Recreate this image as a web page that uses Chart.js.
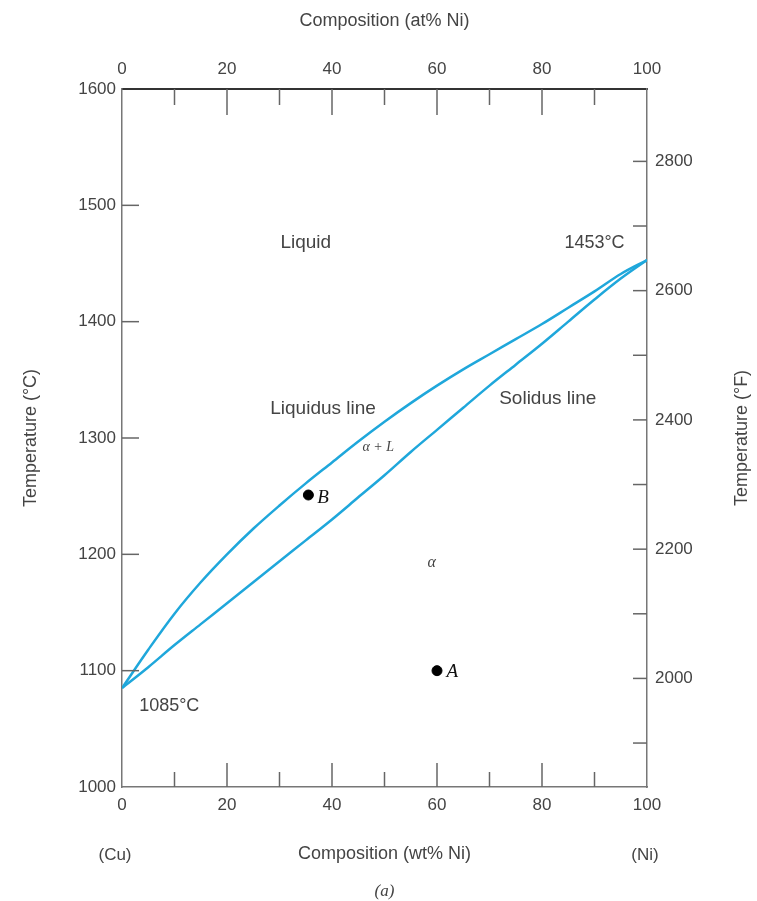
<!DOCTYPE html>
<html lang="en">
<head>
  <meta charset="UTF-8" />
  <title>Cu-Ni phase diagram</title>
  <script src="https://cdn.jsdelivr.net/npm/chart.js"></script>
  <style>
    body { margin: 0; background: #fff; }
    #wrap { width: 757px; height: 901px; }
  </style>
</head>
<body>
  <div id="wrap"><canvas id="phase" width="757" height="901"></canvas></div>

  <script>
    // composition (wt% Ni) where the two boundaries were read
    const wtNi = [0, 5, 10, 15, 20, 25, 30, 35, 40, 45, 50, 55, 60, 65, 70, 75, 80, 85, 90, 95, 100];
    // liquidus and solidus temperatures (°C)
    const liquidusC = [1085, 1118, 1149, 1176, 1200, 1222, 1242, 1261, 1279, 1297, 1314, 1330, 1345, 1359, 1372, 1385, 1398, 1412, 1426, 1441, 1453];
    const solidusC  = [1085, 1103, 1122, 1140, 1158, 1176, 1194, 1212, 1230, 1249, 1268, 1288, 1307, 1326, 1345, 1363, 1381, 1400, 1419, 1437, 1453];

    // the two marked alloys
    const pointNames = ['A', 'B'];
    const pointWt = [60, 35.5];
    const pointTempC = [1100, 1251];

    // axis ranges
    const tempMinC = 1000, tempMaxC = 1600;
    const toF = c => c * 9 / 5 + 32;

    const sans = '"Liberation Sans", Arial, sans-serif';
    const serif = '"Liberation Serif", "Times New Roman", serif';

    // text placed on the diagram (data coordinates)
    const notes = [
      { text: 'Liquid', x: 35, y: 1468, font: '19px ' + sans },
      { text: '1453°C', x: 90, y: 1468, font: '18px ' + sans },
      { text: 'Liquidus line', x: 38.3, y: 1325, font: '19px ' + sans },
      { text: 'Solidus line', x: 81.1, y: 1334, font: '19px ' + sans },
      { text: 'α + L', x: 48.8, y: 1292, font: 'italic 14px ' + serif },
      { text: 'α', x: 59, y: 1193, font: 'italic 16px ' + serif },
      { text: '1085°C', x: 9, y: 1070, font: '18px ' + sans },
      { text: 'A', x: 62.9, y: 1099, font: 'italic 19px ' + serif, color: '#111' },
      { text: 'B', x: 38.3, y: 1248, font: 'italic 19px ' + serif, color: '#111' }
    ];

    const lineColor = '#1fa7db';
    const textColor = '#444';

    Chart.defaults.font.family = sans;
    Chart.defaults.font.size = 17;
    Chart.defaults.color = textColor;

    // tick marks drawn inward, labels and extra text
    const diagramExtras = {
      id: 'diagramExtras',
      afterDraw(chart) {
        const ctx = chart.ctx;
        const a = chart.chartArea;
        const s = chart.scales;
        ctx.save();
        ctx.strokeStyle = '#666';
        ctx.lineWidth = 1.5;
        const seg = (x1, y1, x2, y2) => { ctx.beginPath(); ctx.moveTo(x1, y1); ctx.lineTo(x2, y2); ctx.stroke(); };

        s.x.ticks.forEach(t => {
          if (t.value <= 0 || t.value >= 100) return;
          const px = s.x.getPixelForValue(t.value);
          seg(px, a.bottom, px, a.bottom - (t.value % 20 === 0 ? 24 : 15));
        });
        s.x2.ticks.forEach(t => {
          if (t.value <= 0 || t.value >= 100) return;
          const px = s.x2.getPixelForValue(t.value);
          seg(px, a.top, px, a.top + (t.value % 20 === 0 ? 26 : 16));
        });
        s.y.ticks.forEach(t => {
          if (t.value <= tempMinC || t.value >= tempMaxC) return;
          const py = s.y.getPixelForValue(t.value);
          seg(a.left, py, a.left + 17, py);
        });
        s.y2.ticks.forEach(t => {
          const py = s.y2.getPixelForValue(t.value);
          seg(a.right, py, a.right - 14, py);
        });

        // on-diagram labels
        ctx.textAlign = 'center';
        ctx.textBaseline = 'middle';
        notes.forEach(n => {
          ctx.font = n.font;
          ctx.fillStyle = n.color || textColor;
          ctx.fillText(n.text, s.x.getPixelForValue(n.x), s.y.getPixelForValue(n.y));
        });

        // end members and panel letter
        ctx.font = '17px ' + sans;
        ctx.fillStyle = textColor;
        ctx.fillText('(Cu)', s.x.getPixelForValue(0) - 7, 855);
        ctx.fillText('(Ni)', s.x.getPixelForValue(100) - 2, 855);
        ctx.font = 'italic 17px ' + serif;
        ctx.fillText('(a)', (a.left + a.right) / 2, 892);

        // right axis title, reading upward
        ctx.font = '18px ' + sans;
        ctx.translate(742, (a.top + a.bottom) / 2);
        ctx.rotate(-Math.PI / 2);
        ctx.fillText('Temperature (°F)', 0, 0);
        ctx.restore();
      }
    };

    new Chart(document.getElementById('phase'), {
      type: 'scatter',
      data: {
        datasets: [
          {
            label: 'Liquidus',
            data: wtNi.map((w, i) => ({ x: w, y: liquidusC[i] })),
            showLine: true,
            borderColor: lineColor,
            borderWidth: 2.5,
            pointRadius: 0,
            tension: 0.35
          },
          {
            label: 'Solidus',
            data: wtNi.map((w, i) => ({ x: w, y: solidusC[i] })),
            showLine: true,
            borderColor: lineColor,
            borderWidth: 2.5,
            pointRadius: 0,
            tension: 0.35
          },
          {
            label: 'Alloys',
            data: pointNames.map((n, i) => ({ x: pointWt[i], y: pointTempC[i] })),
            showLine: false,
            pointRadius: 5,
            pointBackgroundColor: '#000',
            pointBorderColor: '#000'
          }
        ]
      },
      options: {
        responsive: false,
        animation: false,
        layout: { padding: 0 },
        plugins: {
          legend: { display: false },
          tooltip: { enabled: false }
        },
        scales: {
          x: {
            type: 'linear',
            position: 'bottom',
            min: 0, max: 100,
            afterFit: sc => { sc.height = 114; },
            grid: { display: false, drawTicks: false },
            border: { display: true, color: '#777', width: 1.5 },
            ticks: { stepSize: 10, padding: 8, maxRotation: 0, callback: v => v % 20 === 0 ? v : '' },
            title: { display: true, text: 'Composition (wt% Ni)', font: { size: 18 }, padding: { top: 0, bottom: 36 } }
          },
          x2: {
            type: 'linear',
            position: 'top',
            min: 0, max: 100,
            afterFit: sc => { sc.height = 89; },
            grid: { display: false, drawTicks: false },
            border: { display: true, color: '#333', width: 2 },
            ticks: { stepSize: 10, padding: 9, maxRotation: 0, callback: v => v % 20 === 0 ? v : '' },
            title: { display: true, text: 'Composition (at% Ni)', font: { size: 18 }, padding: { top: 10, bottom: 0 } }
          },
          y: {
            type: 'linear',
            position: 'left',
            min: tempMinC, max: tempMaxC,
            afterFit: sc => { sc.width = 122; },
            grid: { display: false, drawTicks: false },
            border: { display: true, color: '#777', width: 1.5 },
            ticks: { stepSize: 100, padding: 6, callback: v => String(v) },
            title: { display: true, text: 'Temperature (°C)', font: { size: 18 }, padding: { top: 20, bottom: 0 } }
          },
          y2: {
            type: 'linear',
            position: 'right',
            min: toF(tempMinC), max: toF(tempMaxC),
            afterFit: sc => { sc.width = 110; },
            afterBuildTicks: sc => { sc.ticks = sc.ticks.filter(t => t.value % 100 === 0); },
            grid: { display: false, drawTicks: false },
            border: { display: true, color: '#777', width: 1.5 },
            ticks: { stepSize: 100, padding: 8, callback: v => v % 200 === 0 ? String(v) : '' }
          }
        }
      },
      plugins: [diagramExtras]
    });
  </script>
</body>
</html>
